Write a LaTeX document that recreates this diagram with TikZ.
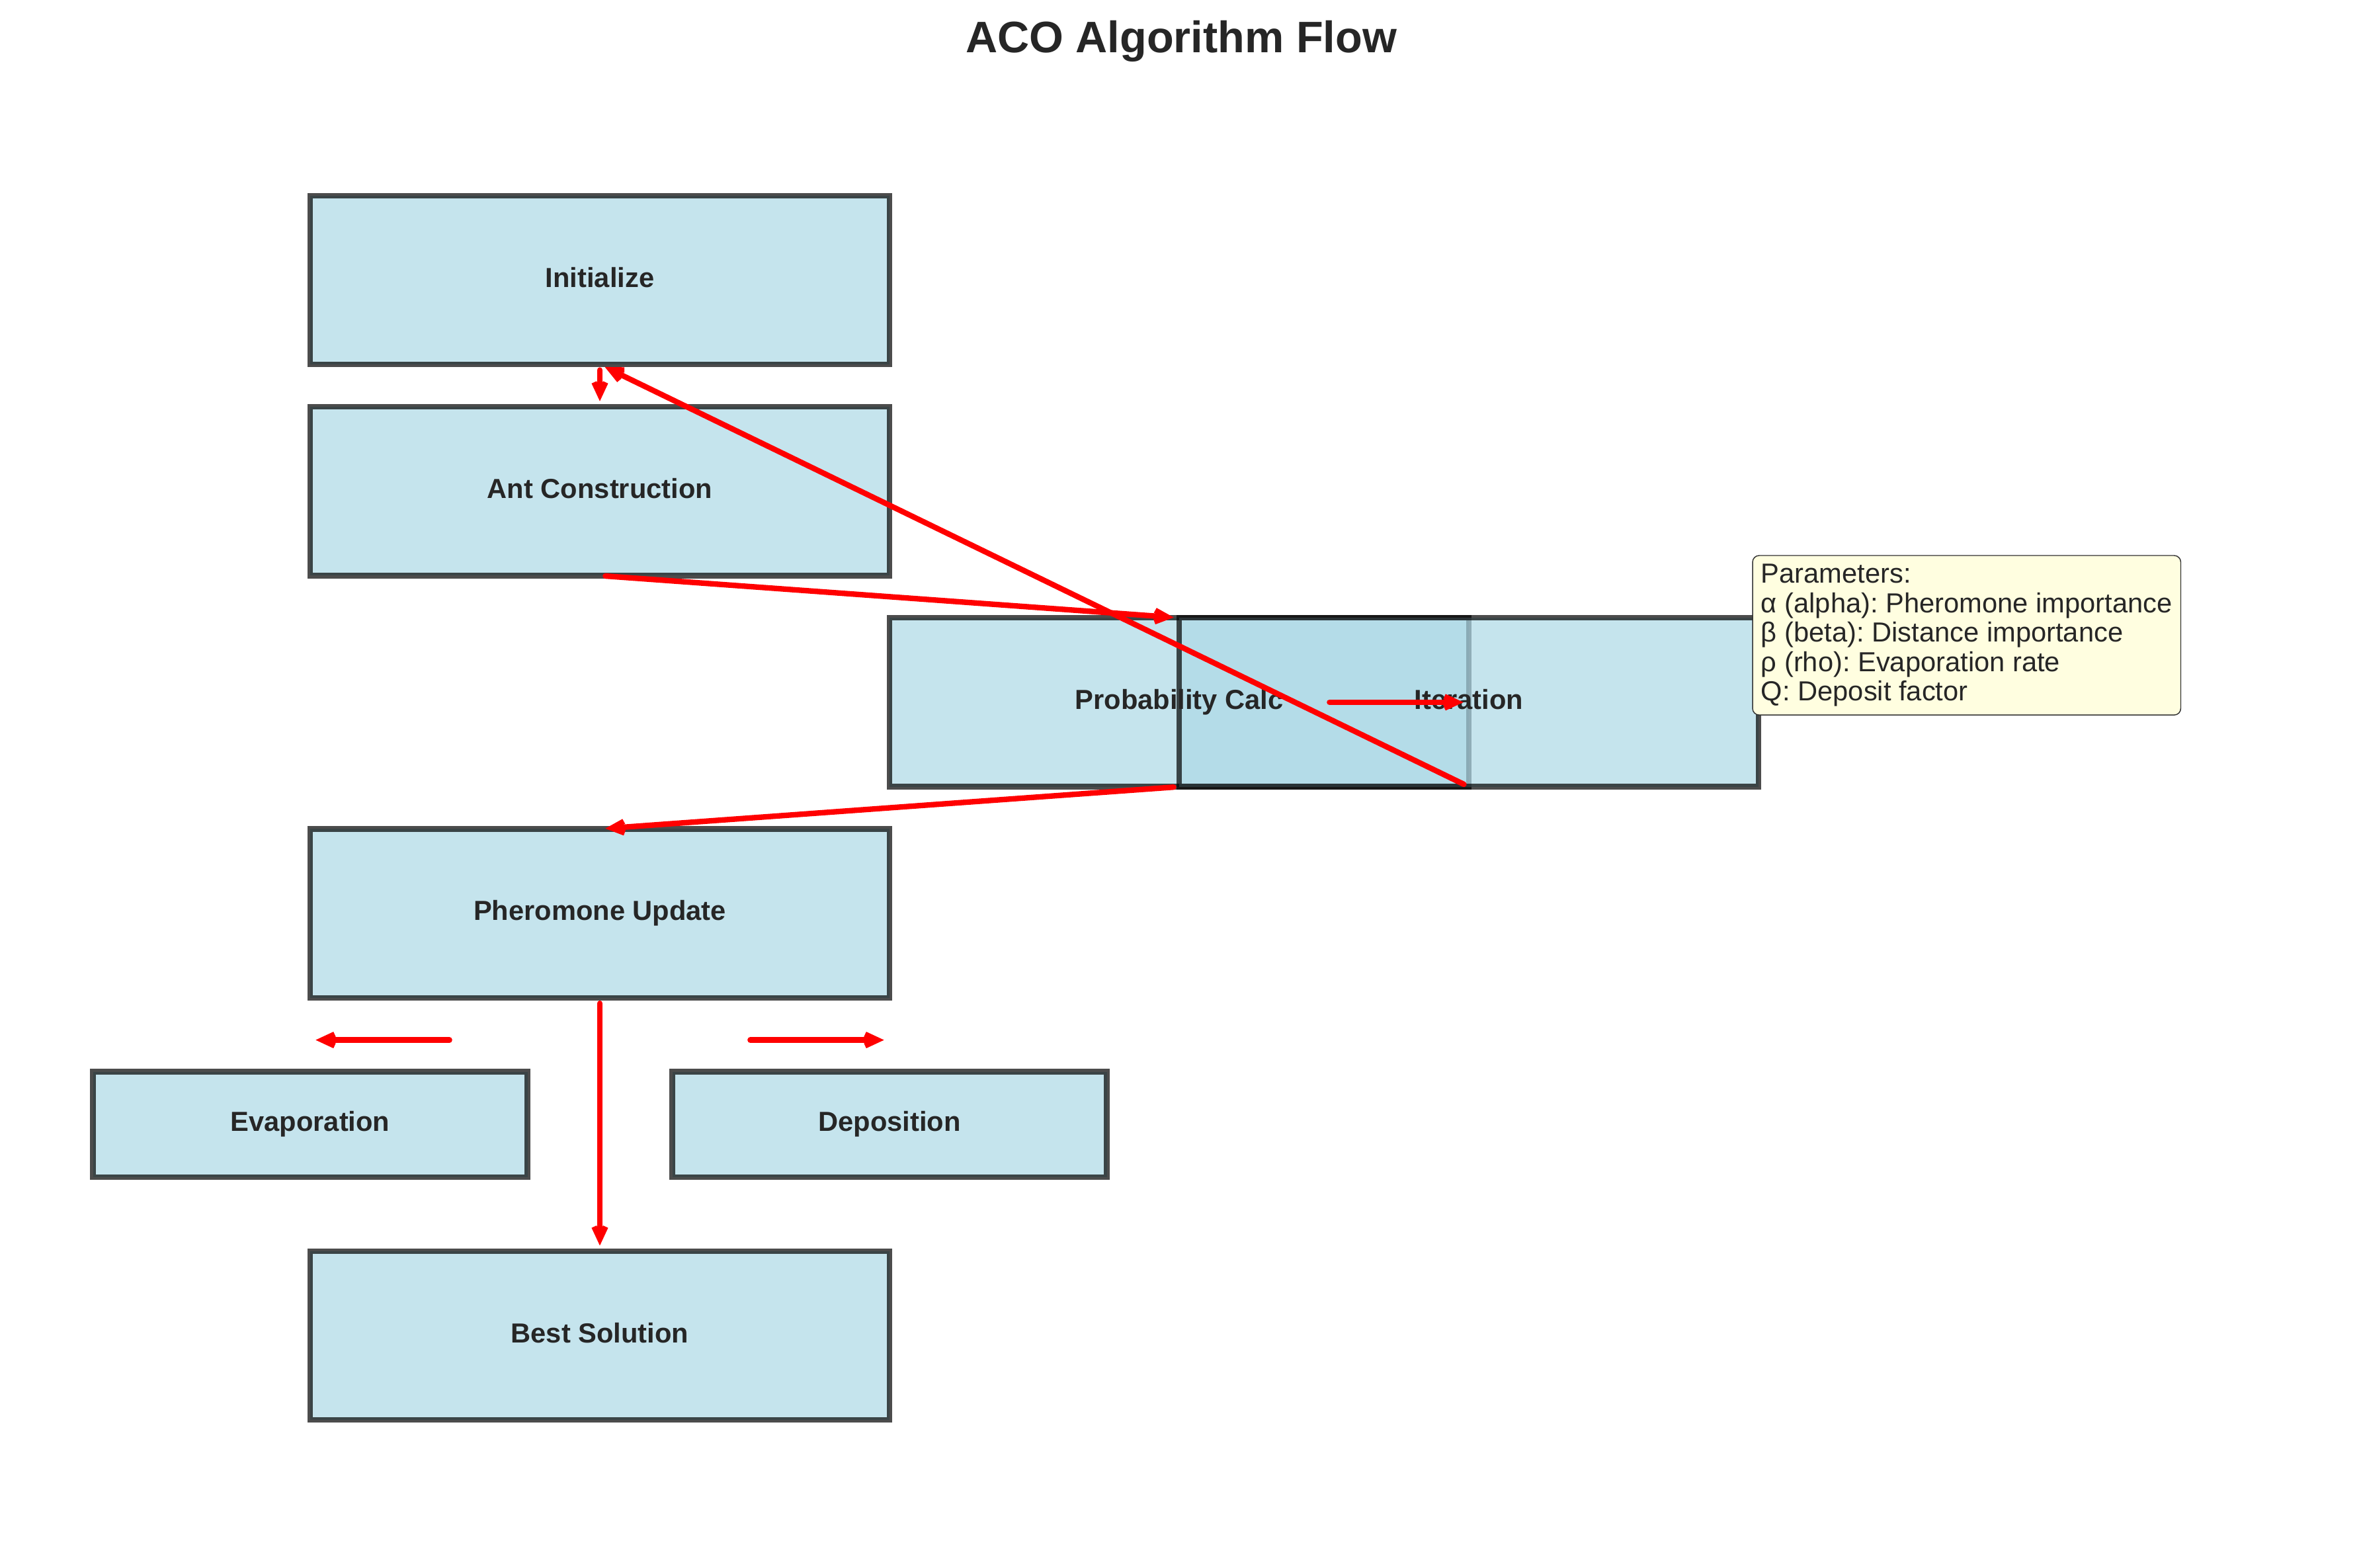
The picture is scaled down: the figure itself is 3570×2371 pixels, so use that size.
\documentclass[tikz,border=0pt]{standalone}
\usepackage{fontspec}
\setmainfont{Liberation Sans}
\usetikzlibrary{arrows.meta,calc}
\definecolor{boxfill}{RGB}{173,216,230}
\definecolor{txt}{RGB}{38,38,38}
\definecolor{paramfill}{RGB}{255,254,224}
\frenchspacing
\begin{document}
\frenchspacing
\begin{tikzpicture}[x=0.24bp,y=-0.24bp,
  box/.style={rectangle, draw=black, draw opacity=0.7, fill=boxfill, fill opacity=0.7, line width=2bp, outer sep=0pt, inner sep=0pt},
  bigbox/.style={box, minimum width={876*0.24bp}, minimum height={255.4*0.24bp}},
  smallbox/.style={box, minimum width={657*0.24bp}, minimum height={159.6*0.24bp}},
  lbl/.style={text=txt, font=\fontsize{10bp}{12bp}\selectfont\bfseries, text height=0.72em, text depth=0.21em, inner sep=0pt},
  flow/.style={draw=red, line width=2bp, line cap=round, line join=round, shorten <=2bp, shorten >=2bp, -{Straight Barb[length=4.5bp,width=4.2bp]}}
]
\useasboundingbox (0,0) rectangle (3570,2371);

% title
\node[anchor=base, text=txt, font=\fontsize{16bp}{19bp}\selectfont\bfseries, inner sep=0pt] (title) at (1786,79) {ACO Algorithm Flow};

% boxes
\node[bigbox] (init) at (907,423.5) {};
\node[bigbox] (ant) at (907,742.7) {};
\node[bigbox] (prob) at (1783,1061.9) {};
\node[bigbox] (iter) at (2221,1061.9) {};
\node[bigbox] (pher) at (907,1381.1) {};
\node[smallbox] (evap) at (469,1700.3) {};
\node[smallbox] (depo) at (1345,1700.3) {};
\node[bigbox] (best) at (907,2019.5) {};

% labels
\node[lbl] (initl) at (init.center) {Initialize};
\node[lbl] (antl) at (ant.center) {Ant Construction};
\node[lbl] (probl) at (prob.center) {Probability Calc};
\node[lbl] (iterl) at (iter.center) {Iteration};
\node[lbl] (pherl) at (pher.center) {Pheromone Update};
\node[lbl] (evapl) at (evap.center) {Evaporation};
\node[lbl] (depol) at (depo.center) {Deposition};
\node[lbl] (bestl) at (best.center) {Best Solution};

% parameters box
\node[anchor=north west, draw=black!80, line width=0.35bp, fill=paramfill, rounded corners=2.4bp, inner sep=3.1bp, outer sep=0pt, align=left, text=txt, font=\fontsize{10bp}{10.68bp}\selectfont\frenchspacing] (params) at (2650,840) {Parameters:\\α (alpha): Pheromone importance\\β (beta): Distance importance\\ρ (rho): Evaporation rate\\Q: Deposit factor};

% free arrow ends
\coordinate (pc) at ($(prob.center)+(219,0)$);
\coordinate (pe1) at ($(pher.center)+(-219,191.5)$);
\coordinate (pe2) at ($(pher.center)+(-438,191.5)$);
\coordinate (pd1) at ($(pher.center)+(219,191.5)$);
\coordinate (pd2) at ($(pher.center)+(438,191.5)$);

% arrows
\draw[flow] (init.south) -- (ant.north);
\draw[flow] (ant.south) -- (prob.north);
\draw[flow] (pc) -- (iter.center);
\draw[flow] (prob.south) -- (pher.north);
\draw[flow] (iter.south) -- (init.south);
\draw[flow] (pe1) -- (pe2);
\draw[flow] (pd1) -- (pd2);
\draw[flow] (pher.south) -- (best.north);
\end{tikzpicture}
\end{document}
